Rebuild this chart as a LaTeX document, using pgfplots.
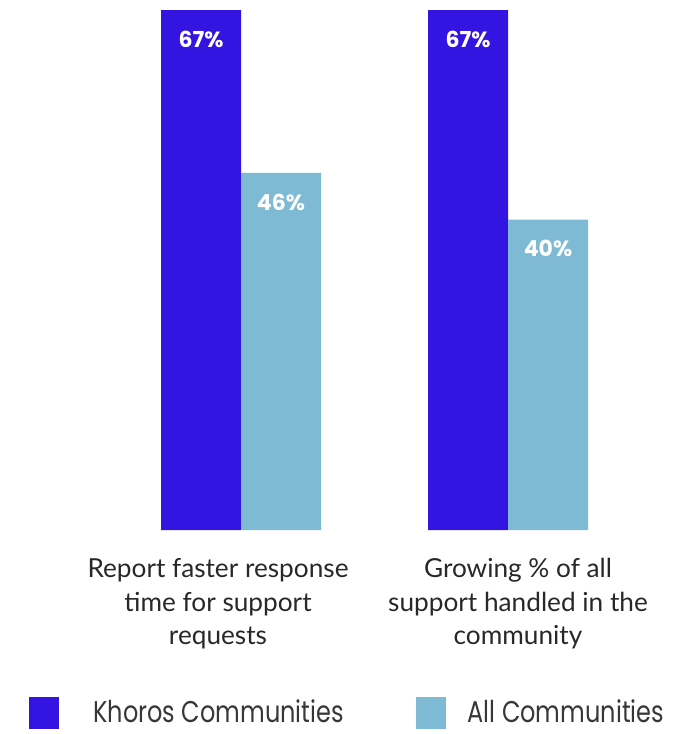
\documentclass[border=0pt]{standalone}
\usepackage{pgfplots}
\pgfplotsset{compat=1.18}
\usepackage{fontspec}
\setmainfont{Lato}
\newfontfamily\poppins{Poppins}
\newfontfamily\poppinsN[FakeStretch=0.8]{Poppins}
\definecolor{khoros}{RGB}{52,20,224}
\definecolor{allc}{RGB}{127,186,212}
\definecolor{lbl}{RGB}{40,40,40}
\definecolor{lgd}{RGB}{55,55,55}
\begin{document}
\begin{tikzpicture}
\begin{axis}[
 scale only axis, width=345pt, height=265pt,
 xmin=-0.9026, xmax=1.6816, ymin=0, ymax=68.29,
 axis line style={draw=none},
 ytick=\empty,
 xtick={-0.0861,1.0375},
 xticklabels={{Report faster response\\time for support\\requests},{Growing \% of all\\support handled in the\\community}},
 major tick length=0pt,
 xticklabel style={align=center, font=\fontsize{13.1}{16.8}\selectfont, text=lbl, anchor=north, inner sep=0pt, yshift=-14pt},
 ybar, bar width=40pt,
 nodes near coords={\pgfmathprintnumber[assume math mode=true]{\pgfplotspointmeta}\%},
 every node near coord/.append style={font=\poppins\bfseries\fontsize{11}{13}\selectfont, text=white, anchor=center, yshift=-14.5pt},
 legend style={at={(0,0)}, anchor=west, xshift=14.5pt, yshift=-91.5pt, draw=none, fill=none, inner sep=0pt,
   nodes={inner sep=0pt}, font=\poppinsN\fontsize{15}{17}\selectfont, text=lgd,
   /tikz/column 1/.style={column sep=17pt},
   /tikz/column 2/.style={column sep=36pt},
   /tikz/column 3/.style={column sep=11pt}},
 legend columns=2,
 legend image code/.code={\fill[#1] (0pt,-8pt) rectangle (15pt,8pt);},
]
\addplot[fill=khoros, draw=none, bar shift=-20pt] coordinates {(0,67) (1,67)};
\addplot[fill=allc, draw=none, bar shift=20pt] coordinates {(0,46) (1,40)};
\legend{Khoros Communities, All Communities}
\end{axis}
\pgfresetboundingbox
\useasboundingbox (current axis.south west) ++(0,-102pt) rectangle (current axis.north east);
\end{tikzpicture}
\end{document}
